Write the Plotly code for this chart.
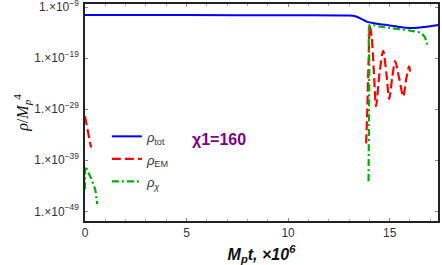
import plotly.graph_objects as go

# ---- data (t in units of 1e6 / M_p ; values are log10(rho/M_p^4)) ----
tot_t = [0.0, 5.0, 10.0, 13.0, 13.3, 13.6, 13.9, 14.3, 15.0, 15.5, 16.0, 16.5, 17.0, 17.4]
tot_log = [-10.57, -10.57, -10.6, -10.65, -10.8, -11.3, -11.9, -12.2, -12.6, -12.9, -13.1, -13.0, -12.75, -12.5]

em1_t = [0.0, 0.1, 0.2, 0.3]
em1_log = [-30.4, -32.6, -34.6, -36.5]
em2_t = [13.84, 13.9, 13.96, 14.03, 14.12, 14.22, 14.33, 14.5, 14.68, 14.84, 14.98, 15.12, 15.27, 15.47, 15.67, 15.82, 15.96, 16.02]
em2_log = [-35.7, -29.0, -20.0, -12.8, -15.0, -21.5, -28.4, -22.0, -17.6, -22.0, -27.0, -23.0, -19.6, -23.0, -26.5, -23.0, -20.6, -22.3]

chi1_t = [0.0, 0.0, 0.01, 0.25, 0.5, 0.6]
chi1_log = [-44.7, -42.0, -40.2, -42.1, -44.7, -47.6]
chi2_t = [13.96, 13.98, 14.0, 14.02, 14.5, 15.0, 16.0, 16.5, 16.7, 16.8, 16.86]
chi2_log = [-43.1, -32.0, -20.0, -12.5, -12.8, -13.1, -13.6, -14.0, -14.7, -15.6, -16.6]

ytick_exp = [-9, -19, -29, -39, -49]
xtick_vals = [0, 5, 10, 15]

def lin(vals):
    return [10 ** v for v in vals]

def leg(txt):
    return '<span style="font-size:13px">' + txt + '</span>'

fig = go.Figure()
fig.add_trace(go.Scatter(x=tot_t, y=lin(tot_log), mode="lines", name=leg("<i>ρ</i><sub>tot</sub>"),
                         line=dict(color="#0000ff", width=2, shape="spline", smoothing=0.6)))
fig.add_trace(go.Scatter(x=em1_t, y=lin(em1_log), mode="lines", name=leg("<i>ρ</i><sub>EM</sub>"),
                         legendgroup="em", line=dict(color="#ff0000", width=2.2, dash="9px,4px")))
fig.add_trace(go.Scatter(x=em2_t, y=lin(em2_log), mode="lines", showlegend=False,
                         legendgroup="em", line=dict(color="#ff0000", width=2.2, dash="9px,4px",
                                                     shape="spline", smoothing=0.8)))
fig.add_trace(go.Scatter(x=chi1_t, y=lin(chi1_log), mode="lines", name=leg("<i>ρ</i><sub><i>χ</i></sub>"),
                         legendgroup="chi", line=dict(color="#00b000", width=2.2, dash="7px,3px,2px,3px",
                                                      shape="spline", smoothing=0.5)))
fig.add_trace(go.Scatter(x=chi2_t, y=lin(chi2_log), mode="lines", showlegend=False,
                         legendgroup="chi", line=dict(color="#00b000", width=2.2, dash="7px,3px,2px,3px",
                                                      shape="spline", smoothing=0.5)))

fig.add_annotation(x=6.6, y=-35.0, xref="x", yref="y", text="<b>χ1=160</b>", showarrow=False,
                   font=dict(family="Liberation Sans, Arial", size=16, color="#800080"))

fig.update_layout(
    width=442, height=265,
    margin=dict(l=85, r=4, t=4, b=44),
    paper_bgcolor="white", plot_bgcolor="white",
    font=dict(family="Liberation Sans, Arial", color="#444"),
    legend=dict(x=0.062, y=0.465, xanchor="left", yanchor="top", bgcolor="rgba(0,0,0,0)",
                font=dict(size=15, color="#333"), itemwidth=30, tracegroupgap=0),
    xaxis=dict(range=[0, 17.38], tickvals=xtick_vals, ticktext=[str(v) for v in xtick_vals],
               ticks="inside", ticklen=3, tickcolor="#888", showgrid=False, zeroline=False,
               showline=True, linecolor="#222", linewidth=1.5, mirror="ticks", automargin=False,
               tickfont=dict(size=12, color="#333"),
               minor=dict(dtick=1, ticks="inside", ticklen=2, tickcolor="#aaa"),
               title=dict(text="<b><i>M<sub>p</sub>t, ×10<sup>6</sup></i></b>",
                          font=dict(size=16, color="#111"), standoff=10)),
    yaxis=dict(type="log", range=[-50.9, -8.4],
               tickvals=[10 ** e for e in ytick_exp],
               ticktext=["1.×10<sup>−%d</sup>" % (-e) for e in ytick_exp],
               ticks="inside", ticklen=3, tickcolor="#888", showgrid=False, zeroline=False,
               showline=True, linecolor="#222", linewidth=1.5, mirror="ticks", automargin=False,
               tickfont=dict(size=12, color="#333"), ticklabeloverflow="allow", ticklabelstandoff=2,
               title=dict(text="<i>ρ</i>/<i>M</i><sub><i>p</i></sub><sup>4</sup>",
                          font=dict(family="Liberation Serif, Times New Roman", size=16, color="#111"),
                          standoff=2)),
)

fig.write_html("out.html", config={"displayModeBar": False},
               post_script="document.body.style.margin='0';")
